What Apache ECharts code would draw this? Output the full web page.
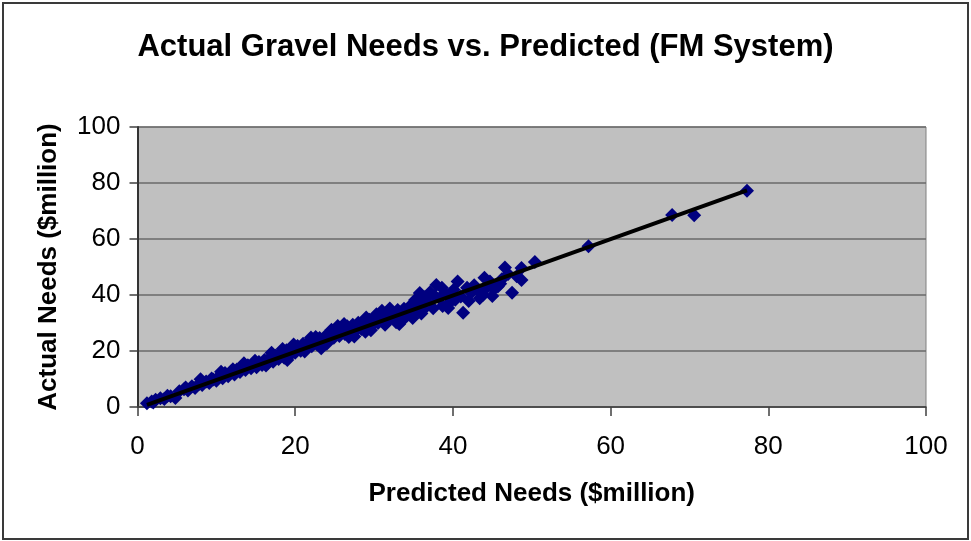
<!DOCTYPE html>
<html>
<head>
<meta charset="utf-8">
<script src="https://cdn.jsdelivr.net/npm/echarts@6/dist/echarts.min.js"></script>
<style>
html,body{margin:0;padding:0;background:#fff;}
#chart{width:971px;height:541px;}
</style>
</head>
<body>
<div id="chart"></div>
<script>
// Predicted needs ($million)
const predicted = [1.2,1.8,2.0,2.3,2.9,3.4,3.8,4.2,4.8,5.3,5.9,6.1,6.4,6.9,7.3,7.8,8.0,8.2,8.7,9.1,9.4,9.6,10.0,10.4,10.6,10.8,11.1,11.5,11.9,12.1,12.3,12.6,13.0,13.3,13.5,13.7,14.0,14.4,14.7,14.9,15.1,15.4,15.8,16.1,16.3,16.5,16.8,17.0,17.2,17.5,17.9,18.2,18.4,18.6,18.9,19.0,19.3,19.6,19.8,20.0,20.3,20.7,21.0,21.2,21.4,21.7,22.0,22.1,22.4,22.6,22.8,23.1,23.3,23.5,23.8,24.0,24.2,24.5,24.6,24.9,25.2,25.4,25.6,25.9,26.2,26.3,26.6,26.8,27.0,27.3,27.5,27.7,27.9,28.0,28.4,28.7,28.9,29.0,29.1,29.4,29.6,29.8,30.1,30.3,30.5,30.8,31.0,31.2,31.4,31.5,31.9,32.0,32.2,32.6,32.8,33.0,33.2,33.4,33.6,33.8,34.2,34.4,34.6,34.9,35.0,35.2,35.6,35.8,36.0,36.2,36.4,36.7,37.1,37.5,37.7,37.9,38.3,38.6,38.7,39.1,39.4,39.6,40.1,40.3,40.6,41.0,41.3,41.8,42.0,42.3,42.7,43.1,43.4,43.8,44.0,44.2,44.7,45.0,45.2,45.7,46.0,46.2,46.6,47.0,47.5,48.1,48.7,48.7,50.4,57.2,67.8,70.6,77.3];
// Actual needs ($million)
const actual = [1.3,2.0,1.6,2.6,3.1,2.9,4.0,3.8,3.2,5.6,6.3,7.0,5.9,7.4,6.8,8.2,9.9,7.9,9.1,8.6,10.2,9.8,9.4,11.2,12.6,10.3,12.1,11.0,12.8,13.5,11.6,13.4,12.5,14.1,15.6,13.2,14.9,13.8,15.4,16.5,14.2,16.1,15.0,16.8,14.8,15.6,17.6,19.4,16.2,18.3,17.1,19.2,20.7,17.6,20.3,16.8,18.4,21.1,22.3,19.4,21.8,20.1,22.6,19.8,20.9,23.2,24.8,21.7,23.9,25.0,22.3,24.6,21.0,23.1,25.3,22.6,23.8,26.1,27.6,24.7,27.0,28.9,25.4,28.2,29.6,26.1,28.8,25.0,26.6,29.4,25.2,27.3,29.0,30.1,27.9,30.6,26.9,32.0,28.7,31.2,27.4,29.3,31.9,33.1,30.0,32.6,34.4,30.5,29.4,33.3,31.2,35.2,33.9,31.8,30.3,34.6,29.6,32.3,31.0,35.1,32.8,34.0,36.2,31.8,33.5,38.2,36.4,40.7,33.4,34.6,39.2,37.8,41.0,35.3,39.6,43.6,38.8,42.6,36.1,40.2,35.4,37.2,41.9,38.3,44.8,39.5,33.7,42.6,37.9,40.8,43.5,42.0,38.8,40.0,46.2,42.4,44.8,39.6,42.1,43.0,44.0,45.6,49.8,47.5,40.8,46.7,45.4,49.6,51.8,57.4,68.6,68.5,77.2];
// Linear trend line end points [predicted, actual]
const trendStart = [1.2, 0.8];
const trendEnd = [77.3, 77.4];
const axisTicks = [0, 20, 40, 60, 80, 100];

const points = predicted.map((p, i) => [p, actual[i]]);

const chart = echarts.init(document.getElementById('chart'), null, {renderer: 'canvas'});
const FONT = '"Liberation Sans", Arial, sans-serif';
chart.setOption({
  backgroundColor: '#ffffff',
  animation: false,
  title: {
    text: 'Actual Gravel Needs vs. Predicted (FM System)',
    left: 'center',
    top: 27,
    textStyle: {fontFamily: FONT, fontWeight: 'bold', fontSize: 31, color: '#000'}
  },
  graphic: [{
    type: 'rect', shape: {x: 3, y: 3, width: 965, height: 536},
    style: {fill: 'none', stroke: '#3a3a3a', lineWidth: 2}, silent: true, z: 100
  }],
  grid: {
    left: 137.5, right: 45, top: 127, bottom: 134,
    show: true, backgroundColor: '#c0c0c0', borderColor: '#808080', borderWidth: 1
  },
  xAxis: {
    type: 'value', min: axisTicks[0], max: axisTicks[axisTicks.length - 1], interval: 20,
    name: 'Predicted Needs ($million)', nameLocation: 'middle', nameGap: 74,
    nameTextStyle: {fontFamily: FONT, fontWeight: 'bold', fontSize: 26, color: '#000'},
    axisLine: {show: true, onZero: false, lineStyle: {color: '#404040', width: 1.5}},
    axisTick: {show: true, inside: false, length: 9, lineStyle: {color: '#404040', width: 1.5}},
    axisLabel: {margin: 27, fontFamily: FONT, fontSize: 26, color: '#000'},
    splitLine: {show: false}
  },
  yAxis: {
    type: 'value', min: axisTicks[0], max: axisTicks[axisTicks.length - 1], interval: 20,
    name: 'Actual Needs ($million)', nameLocation: 'middle', nameGap: 76,
    nameTextStyle: {fontFamily: FONT, fontWeight: 'bold', fontSize: 26, color: '#000'},
    axisLine: {show: true, onZero: false, lineStyle: {color: '#333', width: 2}},
    axisTick: {show: true, inside: false, length: 8, lineStyle: {color: '#404040', width: 1.5}},
    axisLabel: {margin: 17, fontFamily: FONT, fontSize: 26, color: '#000'},
    splitLine: {show: true, lineStyle: {color: '#6a6a6a', width: 1.5}}
  },
  series: [{
    type: 'scatter',
    data: points,
    symbol: 'diamond',
    symbolSize: 14,
    itemStyle: {color: '#000080', opacity: 1},
    z: 2
  }, {
    type: 'line',
    data: [trendStart, trendEnd],
    symbol: 'none',
    lineStyle: {color: '#000', width: 4},
    z: 3
  }]
});
</script>
</body>
</html>
